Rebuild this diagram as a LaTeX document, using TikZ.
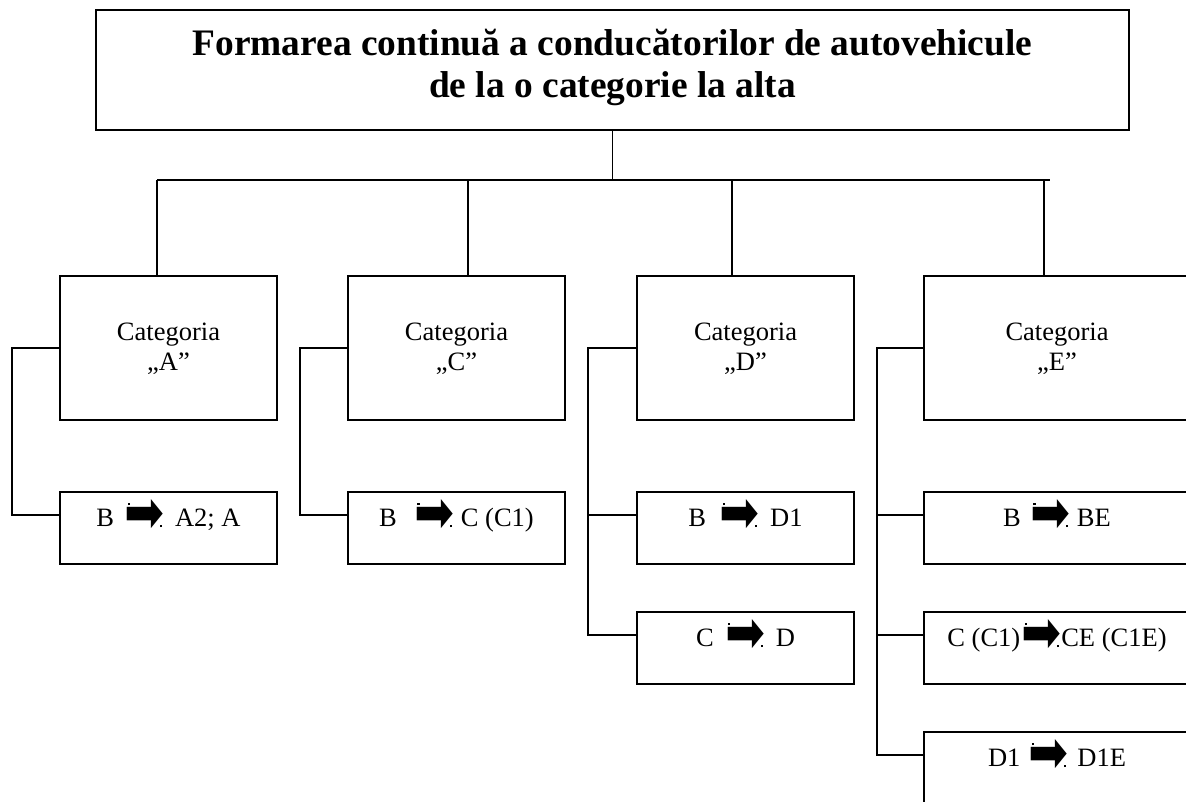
\documentclass[tikz,border=0pt]{standalone}
\usepackage{fontspec}
\usepackage{graphicx}
\setmainfont{Liberation Serif}
\newfontfamily\symfont{DejaVu Sans}
\usetikzlibrary{calc}

\newcommand{\blkarrow}{%
  \makebox[0pt][l]{\hspace{3pt}\raisebox{21pt}{\rule{2.2pt}{2.2pt}}}%
  \raisebox{-6pt}{\resizebox*{40pt}{33pt}{\symfont\raisebox{\depth}{➡}}}%
  \makebox[0pt][r]{\raisebox{-1pt}{\rule{2.2pt}{2.2pt}}\hspace{2.5pt}}}

\begin{document}
\begin{tikzpicture}[x=1pt,y=-1pt,
  box/.style={draw, rectangle, inner sep=0pt, line width=1.8pt},
  catbox/.style={box, minimum width=217pt, minimum height=144pt},
  subbox/.style={box, minimum width=217pt, minimum height=72pt},
  widebox/.style={box, minimum width=266pt, minimum height=72pt},
  wcatbox/.style={box, minimum width=266pt, minimum height=144pt},
  titletext/.style={font=\fontsize{37.4}{42}\selectfont\bfseries, align=center, inner sep=0pt},
  cattext/.style={font=\fontsize{26.5}{30}\selectfont, align=center, inner sep=0pt, anchor=north},
  subtext/.style={font=\fontsize{26.5}{30}\selectfont, inner sep=0pt, anchor=base},
  conn/.style={line width=1.8pt}]
\useasboundingbox (0,0) rectangle (1186,802);
\clip (0,0) rectangle (1186,802);

% title
\node[box, minimum width=1033pt, minimum height=120pt] (title) at (612.5,70) {};
\node[titletext, yshift=2.5pt] (titlet) at (title.center)
  {Formarea continuă a conducătorilor de autovehicule\\de la o categorie la alta};

% category boxes
\node[catbox] (catA) at (168.5,348) {};
\node[catbox] (catC) at (456.5,348) {};
\node[catbox] (catD) at (745.5,348) {};
\node[wcatbox] (catE) at (1057,348) {};
\node[cattext] (catAt) at ($(catA.north)+(0,48)$) {Categoria\\„A”};
\node[cattext] (catCt) at ($(catC.north)+(0,48)$) {Categoria\\„C”};
\node[cattext] (catDt) at ($(catD.north)+(0,48)$) {Categoria\\„D”};
\node[cattext] (catEt) at ($(catE.north)+(0,48)$) {Categoria\\„E”};

% sub boxes
\node[subbox] (bA) at (168.5,528) {};
\node[subbox] (bC) at (456.5,528) {};
\node[subbox] (bD1) at (745.5,528) {};
\node[subbox] (bD2) at (745.5,648) {};
\node[widebox] (bE1) at (1057,528) {};
\node[widebox] (bE2) at (1057,648) {};
\node[widebox] (bE3) at (1057,768) {};

\node[subtext] (bAt) at ($(bA.north)+(0,35)$) {B\hspace{10.5pt}\blkarrow\hspace{10.5pt}A2; A};
\node[subtext] (bCt) at ($(bC.north)+(0,35)$) {B\hspace{17.5pt}\blkarrow\hspace{6.5pt}C (C1)};
\node[subtext] (bD1t) at ($(bD1.north)+(0,35)$) {B\hspace{13.5pt}\blkarrow\hspace{10.5pt}D1};
\node[subtext] (bD2t) at ($(bD2.north)+(0,35)$) {C\hspace{11.5pt}\blkarrow\hspace{10.5pt}D};
\node[subtext] (bE1t) at ($(bE1.north)+(0,35)$) {B\hspace{9.5pt}\blkarrow\hspace{6.5pt}BE};
\node[subtext] (bE2t) at ($(bE2.north)+(0,35)$) {C (C1)\hspace{1.5pt}\blkarrow\hspace{-0.5pt}CE (C1E)};
\node[subtext] (bE3t) at ($(bE3.north)+(0,35)$) {D1\hspace{8.5pt}\blkarrow\hspace{8.5pt}D1E};

% bus
\coordinate (hubL) at (157,180);
\coordinate (hubR) at (1050,180);
\coordinate (tA) at (157,180);
\coordinate (tC) at (468,180);
\coordinate (tD) at (732,180);
\coordinate (tE) at (1044,180);
\draw[conn] (title.south) -- (title.south |- hubL);
\draw[conn] (hubL) -- (hubR);
\draw[conn] (tA) -- (tA |- catA.north);
\draw[conn] (tC) -- (tC |- catC.north);
\draw[conn] (tD) -- (tD |- catD.north);
\draw[conn] (tE) -- (tE |- catE.north);

% left trunks
\coordinate (lA) at (12,0);
\coordinate (lC) at (300,0);
\coordinate (lD) at (588,0);
\coordinate (lE) at (877,0);
\coordinate (kA) at ($(bA.north west)+(0,24)$);
\coordinate (kC) at ($(bC.north west)+(0,24)$);
\coordinate (kD1) at ($(bD1.north west)+(0,24)$);
\coordinate (kD2) at ($(bD2.north west)+(0,24)$);
\coordinate (kE1) at ($(bE1.north west)+(0,24)$);
\coordinate (kE2) at ($(bE2.north west)+(0,24)$);
\coordinate (kE3) at ($(bE3.north west)+(0,24)$);

\draw[conn] (catA.west) -- (catA.west -| lA) |- (kA);
\draw[conn] (catC.west) -- (catC.west -| lC) |- (kC);
\draw[conn] (catD.west) -- (catD.west -| lD) |- (kD2);
\draw[conn] (kD1 -| lD) -- (kD1);
\draw[conn] (catE.west) -- (catE.west -| lE) |- (kE3);
\draw[conn] (kE1 -| lE) -- (kE1);
\draw[conn] (kE2 -| lE) -- (kE2);
\end{tikzpicture}
\end{document}
